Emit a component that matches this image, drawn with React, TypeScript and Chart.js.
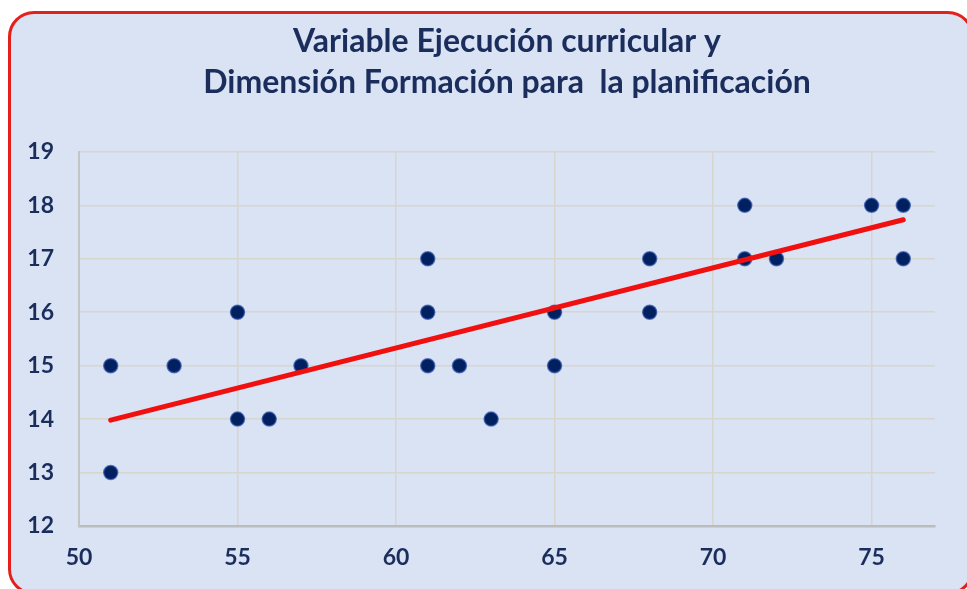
import React, { useEffect, useRef } from "react";
import { Chart, registerables } from "chart.js";

Chart.register(...registerables);

const titleLines = ["Variable Ejecución curricular y", "Dimensión Formación para  la planificación"];
const pointX = [51, 51, 53, 55, 55, 56, 57, 61, 61, 61, 62, 63, 65, 65, 68, 68, 71, 71, 72, 75, 76, 76];
const pointY = [15, 13, 15, 16, 14, 14, 15, 17, 16, 15, 15, 14, 16, 15, 17, 16, 18, 17, 17, 18, 18, 17];
const trendX = [51, 76];
const trendY = [13.98, 17.73];
const xTicks = [50, 55, 60, 65, 70, 75];
const yTicks = [12, 13, 14, 15, 16, 17, 18, 19];

const NAVY = "#1a2d5c";

export default function App() {
  const ref = useRef<HTMLCanvasElement | null>(null);

  useEffect(() => {
    const canvas = ref.current;
    if (!canvas) return;
    const chart = new Chart(canvas, {
      type: "scatter",
      data: {
        datasets: [
          {
            type: "line",
            label: "Tendencia",
            data: trendX.map((x, i) => ({ x, y: trendY[i] })),
            borderColor: "#f01010",
            borderWidth: 5,
            borderCapStyle: "round",
            pointRadius: 0,
            fill: false,
            tension: 0,
          },
          {
            label: "Datos",
            data: pointX.map((x, i) => ({ x, y: pointY[i] })),
            backgroundColor: "#002060",
            borderColor: "rgba(45,80,170,0.7)",
            borderWidth: 1.5,
            pointRadius: 7,
            pointHoverRadius: 7,
          },
        ],
      },
      options: {
        responsive: false,
        animation: false,
        devicePixelRatio: 1,
        layout: { padding: { left: 0, right: 32, top: 0, bottom: 0 } },
        plugins: {
          legend: { display: false },
          tooltip: { enabled: false },
          title: {
            display: true,
            fullSize: false,
            text: titleLines,
            color: NAVY,
            font: { family: "Lato", size: 32, weight: "bold", lineHeight: 1.28 },
            padding: { top: 21.5, bottom: 48.5 },
          },
        },
        scales: {
          x: {
            type: "linear",
            min: 50,
            max: 77,
            afterFit: (s: any) => {
              s.height = 63;
            },
            afterBuildTicks: (s: any) => {
              s.ticks = xTicks.map((v) => ({ value: v }));
            },
            ticks: {
              stepSize: 5,
              includeBounds: false,
              color: NAVY,
              padding: 18,
              font: { family: "Lato", size: 23, weight: "bold" },
            },
            grid: { color: "#d6d6cf", lineWidth: 1.5, drawTicks: false },
            border: { display: true, color: "#bcbcbc", width: 2.5 },
          },
          y: {
            min: 12,
            max: 19,
            afterFit: (s: any) => {
              s.width = 79;
            },
            afterBuildTicks: (s: any) => {
              s.ticks = yTicks.map((v) => ({ value: v }));
            },
            ticks: {
              stepSize: 1,
              color: NAVY,
              padding: 25,
              font: { family: "Lato", size: 23, weight: "bold" },
            },
            grid: { color: "#d6d6cf", lineWidth: 1.5, drawTicks: false },
            border: { display: true, color: "#c4c4c4", width: 2 },
          },
        },
      },
    });
    return () => chart.destroy();
  }, []);

  return (
    <>
      <div
        style={{
          position: "fixed",
          left: 8,
          top: 11,
          width: 966,
          height: 584,
          boxSizing: "border-box",
          border: "3px solid #e3201b",
          borderRadius: 26,
          background: "#dae3f3",
        }}
      />
      <div style={{ position: "fixed", left: 0, top: 0, width: 967, height: 589 }}>
        <canvas ref={ref} width={967} height={589} style={{ display: "block" }} />
      </div>
    </>
  );
}
